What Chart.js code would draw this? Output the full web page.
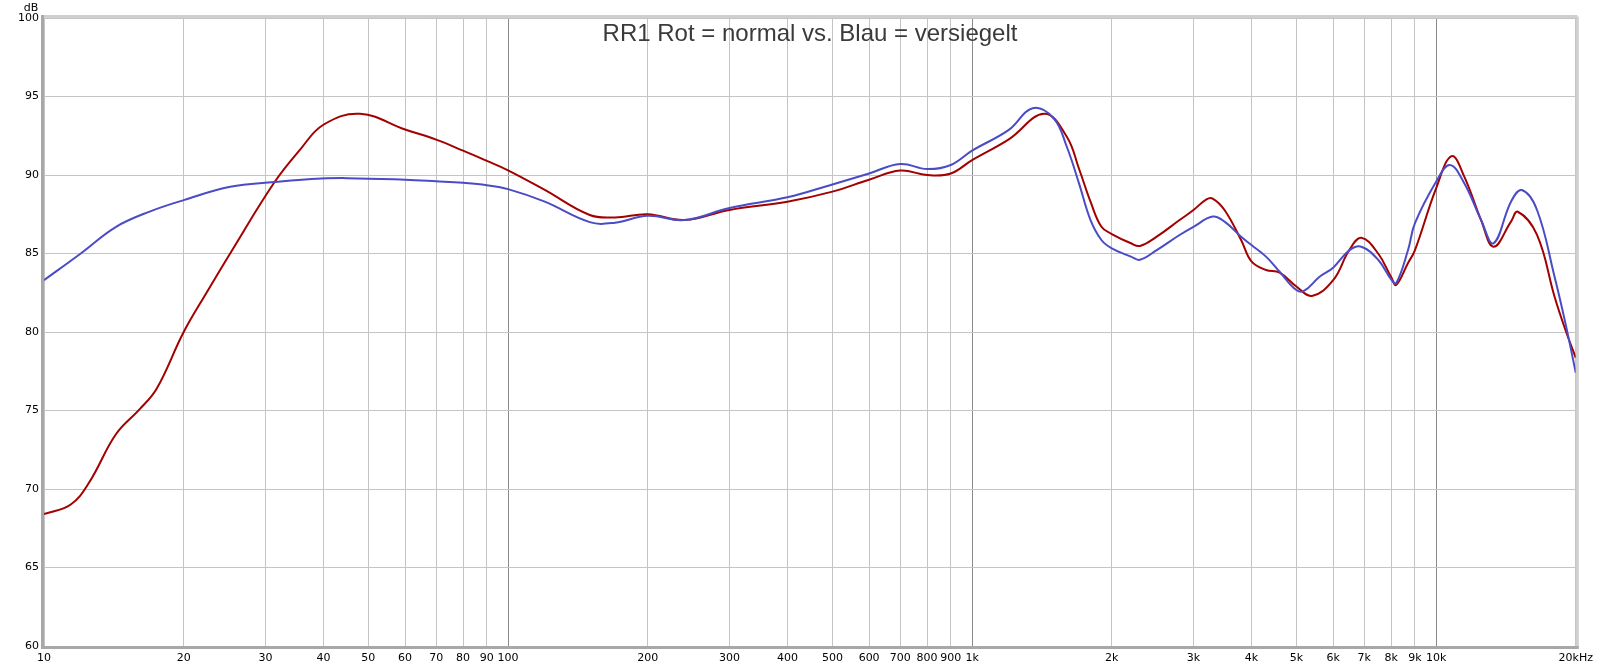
<!DOCTYPE html>
<html>
<head>
<meta charset="utf-8">
<script src="https://cdn.jsdelivr.net/npm/chart.js@4/dist/chart.umd.min.js"></script>
<style>
  html, body { margin: 0; padding: 0; background: #fff; }
  #wrap { width: 1599px; height: 671px; }
</style>
</head>
<body>
<div id="wrap"><canvas id="fr" width="1599" height="671"></canvas></div>
<script>
// frequency response
const TITLE = 'RR1 Rot = normal vs. Blau = versiegelt'

const redFreq = [10, 11.4, 12.5, 14.3, 16.1, 17.5, 20, 22.4, 25.3, 31.4, 35.6, 40, 48, 60, 70, 80, 90,
  100, 120, 150, 170, 200, 240, 300, 400, 500, 600, 700, 800, 900,
  1000, 1200, 1430, 1600, 1700, 1800, 1900, 2000, 2200, 2300, 2500, 2800, 3000, 3200, 3300, 3500, 3800,
  4000, 4300, 4600, 5000, 5400, 6000, 6500, 6900, 7500, 8000, 8200, 8700, 9000,
  10000, 10800, 11500, 12500, 13300, 14500, 15000, 16500, 18000, 19000, 20000]
const redDb = [68.4, 69.0, 70.4, 73.5, 75.1, 76.4, 80.0, 82.5, 85.1, 89.55, 91.6, 93.2, 93.9, 92.9, 92.25, 91.55, 90.9,
  90.3, 89.05, 87.45, 87.3, 87.5, 87.13, 87.77, 88.3, 88.94, 89.7, 90.28, 90.0, 90.1,
  90.95, 92.27, 93.9, 92.44, 90.4, 88.3, 86.7, 86.24, 85.65, 85.48, 86.07, 87.13, 87.77, 88.45, 88.5, 87.77, 85.86,
  84.5, 83.95, 83.78, 82.9, 82.3, 83.3, 85.22, 86.0, 85.0, 83.5, 83.0, 84.4, 85.2,
  89.15, 91.2, 89.9, 87.13, 85.43, 87.03, 87.66, 86.18, 82.25, 80.13, 78.35]

const blueFreq = [10, 12, 14.3, 17, 20, 25.2, 31.4, 37.7, 45, 60, 70, 80, 90,
  100, 120, 150, 170, 200, 240, 300, 400, 500, 600, 700, 800, 900,
  1000, 1200, 1350, 1500, 1600, 1700, 1800, 1900, 2000, 2200, 2300, 2500, 2800, 3000, 3300, 3500, 3800,
  4000, 4300, 4600, 5000, 5200, 5600, 6000, 6500, 6900, 7500, 8000, 8200, 8700, 9000,
  10000, 10700, 11500, 12500, 13300, 14500, 15300, 16500, 18000, 19000, 20000]
const blueDb = [83.3, 85.0, 86.7, 87.7, 88.4, 89.25, 89.55, 89.75, 89.8, 89.7, 89.6, 89.5, 89.35,
  89.1, 88.3, 87.0, 86.96, 87.4, 87.13, 87.9, 88.58, 89.4, 90.1, 90.7, 90.38, 90.64,
  91.55, 92.87, 94.25, 93.6, 91.8, 89.47, 87.13, 85.86, 85.33, 84.8, 84.6, 85.22, 86.18, 86.7, 87.35, 87.03, 86.07,
  85.54, 84.8, 83.84, 82.67, 82.63, 83.5, 84.1, 85.2, 85.43, 84.6, 83.35, 83.1, 85.22, 86.92,
  89.57, 90.64, 89.47, 87.13, 85.65, 88.3, 89.04, 87.77, 83.52, 80.55, 77.4]

const xTicks = [10, 20, 30, 40, 50, 60, 70, 80, 90, 100, 200, 300, 400, 500, 600, 700, 800, 900,
  1000, 2000, 3000, 4000, 5000, 6000, 7000, 8000, 9000, 10000, 20000]
const xTickLabels = ['10', '20', '30', '40', '50', '60', '70', '80', '90', '100', '200', '300', '400', '500', '600', '700', '800', '900',
  '1k', '2k', '3k', '4k', '5k', '6k', '7k', '8k', '9k', '10k', '20kHz']
const decades = [100, 1000, 10000]

const RED  = '#a30000'
const BLUE = '#4b4bc6'

function toPoints(xs, ys) {
  return xs.map((x, i) => ({ x, y: ys[i] }))
}

// title inside the plot, "dB" unit label and the bevelled frame
const decorPlugin = {
  id: 'decor',
  afterDraw(chart) {
    const { ctx, chartArea: a } = chart
    ctx.save()
    ctx.lineWidth = 3
    ctx.strokeStyle = '#cfcfcf'
    ctx.beginPath()
    ctx.moveTo(a.left, a.top - 1.5); ctx.lineTo(a.right + 1.5, a.top - 1.5)
    ctx.moveTo(a.right + 1.5, a.top - 1.5); ctx.lineTo(a.right + 1.5, a.bottom + 1.5)
    ctx.stroke()
    ctx.strokeStyle = '#a8a8a8'
    ctx.beginPath()
    ctx.moveTo(a.left - 1.5, a.top - 3); ctx.lineTo(a.left - 1.5, a.bottom + 1.5)
    ctx.lineTo(a.right + 3, a.bottom + 1.5)
    ctx.stroke()

    ctx.fillStyle = '#000'
    ctx.font = '11px "DejaVu Sans"'
    ctx.textAlign = 'center'
    ctx.textBaseline = 'middle'
    ctx.fillText('dB', 31, 8)

    ctx.fillStyle = '#3a3a3a'
    ctx.font = '24px "Liberation Sans", Arial'
    ctx.fillText(TITLE, 810, 34)
    ctx.restore()
  },
}

new Chart(document.getElementById('fr'), {
  type: 'line',
  data: {
    datasets: [
      { data: toPoints(blueFreq, blueDb), borderColor: BLUE, borderWidth: 2, pointRadius: 0,
        tension: 0.4, fill: false },
      { data: toPoints(redFreq, redDb), borderColor: RED, borderWidth: 2, pointRadius: 0,
        tension: 0.4, fill: false },
    ],
  },
  options: {
    responsive: false,
    animation: false,
    layout: { padding: { top: 18, right: 21, left: 0, bottom: 0 } },
    plugins: { legend: { display: false }, tooltip: { enabled: false }, title: { display: false } },
    scales: {
      x: {
        type: 'logarithmic',
        min: 10,
        max: 20000,
        afterBuildTicks: (scale) => { scale.ticks = xTicks.map(v => ({ value: v })) },
        afterFit: (scale) => { scale.height = 25 },
        border: { display: false },
        grid: {
          drawTicks: false,
          color: (c) => decades.includes(c.tick && c.tick.value) ? '#8a8a8a' : '#c4c4c4',
          lineWidth: 1,
        },
        ticks: {
          autoSkip: false,
          maxRotation: 0,
          padding: 6,
          color: '#000',
          font: { family: 'DejaVu Sans', size: 11 },
          callback: (v) => {
            const i = xTicks.indexOf(v)
            return i >= 0 ? xTickLabels[i] : ''
          },
        },
      },
      y: {
        min: 60,
        max: 100,
        afterFit: (scale) => { scale.width = 44 },
        border: { display: false },
        grid: { drawTicks: false, color: '#c4c4c4', lineWidth: 1 },
        ticks: {
          stepSize: 5,
          padding: 5,
          color: '#000',
          font: { family: 'DejaVu Sans', size: 11 },
        },
      },
    },
  },
  plugins: [decorPlugin],
})
</script>
</body>
</html>
